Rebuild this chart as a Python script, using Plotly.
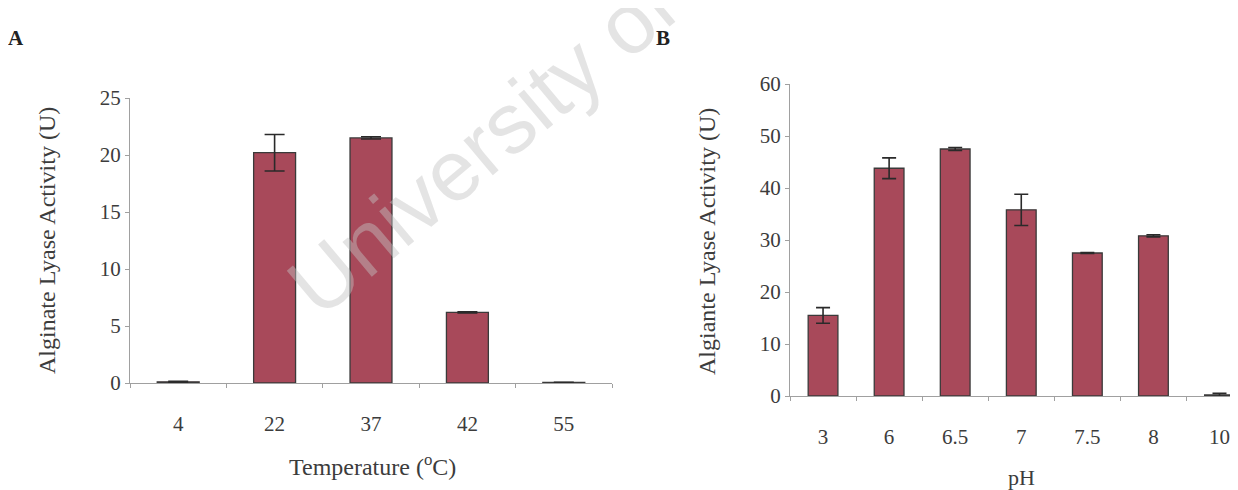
import plotly.graph_objects as go

# Panel A: temperature
temp_labels = ["4", "22", "37", "42", "55"]
temp_values = [0.1, 20.2, 21.5, 6.2, 0.05]
temp_errors = [0.05, 1.6, 0.1, 0.05, 0.02]

# Panel B: pH
ph_labels = ["3", "6", "6.5", "7", "7.5", "8", "10"]
ph_values = [15.5, 43.8, 47.5, 35.8, 27.5, 30.8, 0.2]
ph_errors = [1.5, 2.0, 0.3, 3.0, 0.1, 0.2, 0.3]

# the page body adds an 8 px margin, so the figure is drawn 8 px in from the corner
OFF = 8
W, H = 1238 - OFF, 490 - OFF
BAR = "#a8495a"
EDGE = "#3a3a3a"
TXT = "#3c3c3c"
AX = "#a0a0a0"
FONT = "Liberation Serif"


def pxx(x):
    return (x - OFF) / W


def pxy(y):
    return (H - (y - OFF)) / H


def px_x(a, b):
    return [pxx(a), min(1.0, pxx(b))]


def px_y(top, bottom):
    return [pxy(bottom), pxy(top)]


fig = go.Figure()

fig.add_trace(go.Bar(
    x=temp_labels, y=temp_values, xaxis="x", yaxis="y",
    marker=dict(color=BAR, line=dict(color=EDGE, width=1.3)),
    width=0.435,
    error_y=dict(type="data", array=temp_errors, color="#2a2a2a", thickness=1.6, width=10),
    showlegend=False,
))

fig.add_trace(go.Bar(
    x=ph_labels, y=ph_values, xaxis="x2", yaxis="y2",
    marker=dict(color=BAR, line=dict(color=EDGE, width=1.3)),
    width=0.45,
    error_y=dict(type="data", array=ph_errors, color="#2a2a2a", thickness=1.6, width=7),
    showlegend=False,
))

axis_common = dict(
    showgrid=False, zeroline=False, showline=True, linecolor=AX, linewidth=1,
    ticks="outside", ticklen=4, tickcolor=AX, automargin=False,
    tickfont=dict(family=FONT, size=21, color=TXT),
)

title_font = dict(family=FONT, size=24, color=TXT)

fig.update_layout(
    width=W, height=H,
    margin=dict(l=0, r=0, t=0, b=0),
    paper_bgcolor="white", plot_bgcolor="white",
    xaxis=dict(
        domain=px_x(130, 612), anchor="y", type="category",
        range=[-0.5, 4.5], tickson="boundaries", ticklabelstandoff=22,
        **axis_common,
    ),
    yaxis=dict(
        domain=px_y(98, 383), anchor="x", range=[0, 25], tickvals=[0, 5, 10, 15, 20, 25],
        ticklabelstandoff=0,
        **axis_common,
    ),
    xaxis2=dict(
        domain=px_x(790, 1238), anchor="y2", type="category",
        range=[-0.5, 6.28], tickson="boundaries", ticklabelstandoff=22,
        ticklabeloverflow="allow",
        **axis_common,
    ),
    yaxis2=dict(
        domain=px_y(84, 396), anchor="x2", range=[0, 60], tickvals=[0, 10, 20, 30, 40, 50, 60],
        ticklabelstandoff=0,
        **axis_common,
    ),
    annotations=[
        dict(text="University of", x=pxx(482), y=pxy(145), xref="paper", yref="paper",
             showarrow=False, textangle=-40, xanchor="center", yanchor="middle",
             font=dict(family="Liberation Sans", size=86, color="rgba(195,195,195,0.45)")),
        dict(text="<b>A</b>", x=pxx(16), y=pxy(38), xref="paper", yref="paper",
             showarrow=False, xanchor="center", yanchor="middle",
             font=dict(family=FONT, size=21, color="#222")),
        dict(text="<b>B</b>", x=pxx(663), y=pxy(38), xref="paper", yref="paper",
             showarrow=False, xanchor="center", yanchor="middle",
             font=dict(family=FONT, size=21, color="#222")),
        dict(text="Alginate Lyase Activity (U)", x=pxx(47), y=pxy(241), xref="paper", yref="paper",
             showarrow=False, textangle=-90, xanchor="center", yanchor="middle", font=title_font),
        dict(text="Algiante Lyase Activity (U)", x=pxx(707), y=pxy(241), xref="paper", yref="paper",
             showarrow=False, textangle=-90, xanchor="center", yanchor="middle", font=title_font),
        dict(text="Temperature (<sup>o</sup>C)", x=pxx(372), y=pxy(465), xref="paper", yref="paper",
             showarrow=False, xanchor="center", yanchor="middle", font=title_font),
        dict(text="pH", x=pxx(1021), y=pxy(477), xref="paper", yref="paper",
             showarrow=False, xanchor="center", yanchor="middle", font=dict(family=FONT, size=22, color=TXT)),
    ],
)

fig.write_html("out.html")
